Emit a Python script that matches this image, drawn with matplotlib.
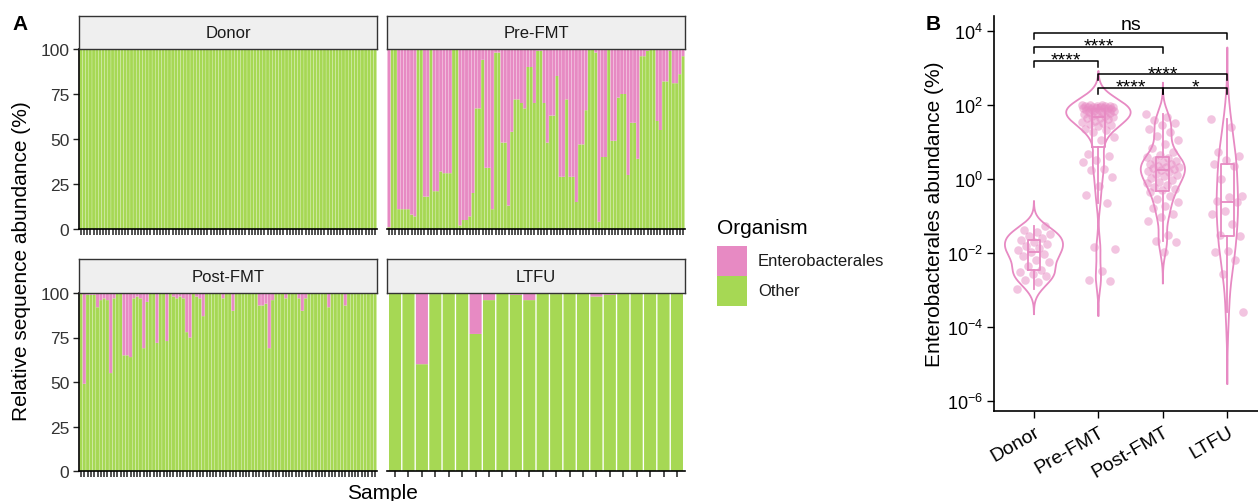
import numpy as np
import matplotlib
matplotlib.use("Agg")
import matplotlib.pyplot as plt
from matplotlib import cbook
from matplotlib.patches import Rectangle
from matplotlib.ticker import NullLocator, LogFormatterMathtext

plt.rcParams['font.family'] = ['Liberation Sans', 'DejaVu Sans']
plt.rcParams['mathtext.fontset'] = 'custom'
plt.rcParams['mathtext.rm'] = 'Liberation Sans'
plt.rcParams['mathtext.it'] = 'Liberation Sans:italic'
plt.rcParams['mathtext.bf'] = 'Liberation Sans:bold'

PINK = '#E78AC3'
GREEN = '#A6D854'

# ---- panel A: relative sequence abundance of "Other" per sample (%) ----
facets = ['Donor', 'Pre-FMT', 'Post-FMT', 'LTFU']
organisms = ['Enterobacterales', 'Other']

donor_other = [100.0] * 94
pre_fmt_other = [
    1, 100, 100, 11, 11, 11, 11, 8, 7, 100, 100, 18, 18, 100, 21, 21, 32, 31, 31, 31,
    100, 100, 2, 5, 5, 7, 20, 67, 67, 94, 34, 34, 11, 98, 98, 48, 48, 13, 54, 72,
    72, 70, 67, 90, 90, 70, 99, 99, 70, 48, 63, 63, 85, 29, 29, 72, 29, 29, 15, 47,
    47, 66, 100, 100, 98, 4, 40, 40, 100, 49, 49, 73, 75, 75, 30, 59, 59, 39, 96, 96,
    99, 100, 100, 60, 55, 82, 82, 99, 81, 81, 86, 96,
]
post_fmt_other = [
    100, 49, 99, 99, 99, 92, 96, 97, 96, 55,
    97, 100, 100, 65, 65, 64, 97, 98, 97, 69,
    95, 100, 100, 72, 100, 100, 73, 100, 98, 97,
    98, 97, 78, 75, 100, 98, 97, 87, 100, 100,
    100, 100, 100, 97, 100, 100, 90, 100, 100, 100,
    100, 100, 100, 100, 93, 93, 94, 69, 96, 100,
    100, 100, 97, 100, 100, 100, 97, 90, 97, 100,
    100, 100, 100, 100, 100, 92, 100, 100, 100, 100,
    93, 100, 100, 100, 100, 100, 100, 100, 100, 100,
]
ltfu_other = [100, 99.9, 60, 99.4, 99.5, 99.9, 77, 96, 99.7, 99, 96,
              99.9, 99.4, 99.9, 99.9, 98, 99.0, 99.9, 99.7, 99.4, 99.9, 99.8]

# ---- panel B: Enterobacterales abundance (%) per sample ----
groups = ['Donor', 'Pre-FMT', 'Post-FMT', 'LTFU']
donor_ent = [0.00107, 0.00162, 0.0019, 0.0024, 0.00275, 0.0030, 0.0034, 0.0045, 0.0055,
             0.0066, 0.0081, 0.0093, 0.0107, 0.0117, 0.0132, 0.0151, 0.0174, 0.0195,
             0.0219, 0.0251, 0.0282, 0.0324, 0.0363, 0.0417, 0.0525]
pre_fmt_ent = [99, 98, 98, 96, 95, 94, 92, 91, 89, 88, 87, 85, 83, 82, 81, 78, 77, 74, 73,
               71, 69, 68, 65, 63, 61, 59, 56, 52, 51, 48, 46, 45, 41, 37, 35, 33, 30, 29,
               27, 23, 21, 19, 14, 11, 4.8, 4.1, 3.2, 2.9, 1.9, 1.7, 1.1, 0.66, 0.36, 0.23,
               0.014, 0.013, 0.0033, 0.0018, 0.0017]
post_fmt_ent = [58, 48, 40, 33, 28, 22, 19, 15, 11.5, 8.9, 6.9, 5.5, 4.5, 3.9, 3.6, 3.2,
                3.0, 2.8, 2.6, 2.5, 2.3, 2.1, 2.05, 2.0, 1.9, 1.8, 1.66, 1.5, 1.38, 1.26,
                1.17, 1.05, 0.93, 0.83, 0.76, 0.68, 0.62, 0.55, 0.5, 0.44, 0.35, 0.29,
                0.24, 0.19, 0.16, 0.11, 0.093, 0.074, 0.030, 0.021, 0.020, 0.0105]
ltfu_ent = [42, 25, 5.4, 4.3, 3.2, 2.6, 2.3, 1.0, 0.35, 0.32, 0.25, 0.24, 0.14, 0.11,
            0.060, 0.030, 0.028, 0.0115, 0.0107, 0.0063, 0.0027, 0.00025]

comparisons = [('Pre-FMT', 'Post-FMT', '****'), ('Post-FMT', 'LTFU', '*'),
               ('Pre-FMT', 'LTFU', '****'), ('Donor', 'Pre-FMT', '****'),
               ('Donor', 'Post-FMT', '****'), ('Donor', 'LTFU', 'ns')]
bracket_row = [0, 0, 1, 2, 3, 4]

W, H = 1258, 502


def px_box(left, top, right, bottom):
    return [left / W, 1 - bottom / H, (right - left) / W, (bottom - top) / H]


fig = plt.figure(figsize=(W / 100, H / 100), dpi=100)

# ---------------- panel A ----------------
panel_px = {
    'Donor': (79, 50, 377, 230),
    'Pre-FMT': (387, 50, 685, 230),
    'Post-FMT': (79, 294, 377, 472),
    'LTFU': (387, 294, 685, 472),
}
strip_top = {'Donor': 17, 'Pre-FMT': 17, 'Post-FMT': 260, 'LTFU': 260}
facet_data = dict(zip(facets, [donor_other, pre_fmt_other, post_fmt_other, ltfu_other]))

for name in facets:
    left, top, right, bottom = panel_px[name]
    other = np.array(facet_data[name], dtype=float)
    x = np.arange(len(other))
    ax = fig.add_axes(px_box(left, top, right, bottom))
    ax.bar(x, other, width=0.9, color=GREEN, linewidth=0, snap=False)
    ax.bar(x, 100 - other, bottom=other, width=0.9, color=PINK, linewidth=0, snap=False)
    ax.set_xlim(-0.6, len(other) - 0.4)
    ax.set_ylim(0, 100)
    ax.set_xticks(x)
    ax.set_xticklabels([])
    ax.tick_params(axis='x', length=4, width=1.1, color='#222222')
    for s in ('top', 'right'):
        ax.spines[s].set_visible(False)
    ax.spines['bottom'].set_linewidth(1.2)
    if name in ('Donor', 'Post-FMT'):
        ax.set_yticks([0, 25, 50, 75, 100])
        ax.tick_params(axis='y', length=4, width=1.0, color='#222222',
                       labelsize=12.5, labelcolor='#333333', pad=3)
        ax.spines['left'].set_linewidth(1.2)
    else:
        ax.spines['left'].set_visible(False)
        ax.set_yticks([])

    sax = fig.add_axes(px_box(left, strip_top[name], right, top))
    sax.set_facecolor('#EFEFEF')
    sax.set_xticks([])
    sax.set_yticks([])
    for s in sax.spines.values():
        s.set_linewidth(1.0)
        s.set_color('#333333')
    sax.text(0.5, 0.5, name, ha='center', va='center', fontsize=12, color='#1A1A1A')

fig.text(22 / W, 1 - 261 / H, 'Relative sequence abundance (%)', rotation=90,
         ha='center', va='center', fontsize=15)
fig.text(382 / W, 1 - 494 / H, 'Sample', ha='center', va='center', fontsize=15)

# legend: title + two touching colour keys
fig.text(717 / W, 1 - 228 / H, 'Organism', ha='left', va='center', fontsize=15)
for k, (lab, col) in enumerate(zip(organisms, [PINK, GREEN])):
    y0 = 247 + 30 * k
    fig.patches.append(Rectangle((717 / W, 1 - (y0 + 30) / H), 30 / W, 30 / H,
                                 transform=fig.transFigure, facecolor=col, edgecolor='none'))
    fig.text(758 / W, 1 - (y0 + 15) / H, lab, ha='left', va='center', fontsize=12,
             color='#1A1A1A')

fig.text(20 / W, 1 - 25 / H, 'A', fontsize=15, fontweight='bold', ha='center', va='center')

# ---------------- panel B ----------------
axb = fig.add_axes(px_box(994, 17, 1258, 411.7))
axb.set_yscale('log')
series = [donor_ent, pre_fmt_ent, post_fmt_ent, ltfu_ent]
logs = [np.log10(np.array(s, dtype=float)) for s in series]


def nrd0(v):
    iqr = np.subtract(*np.percentile(v, [75, 25]))
    return 0.9 * min(np.std(v, ddof=1), iqr / 1.34) * len(v) ** -0.2


dens = []
for v in logs:
    bw = nrd0(v)
    grid = np.linspace(v.min() - 3 * bw, v.max() + 3 * bw, 512)
    d = np.exp(-0.5 * ((grid[:, None] - v[None, :]) / bw) ** 2).sum(axis=1)
    d /= len(v) * bw * np.sqrt(2 * np.pi)
    dens.append((grid, d))
dmax = max(d.max() for _, d in dens)

for i, (grid, d) in enumerate(dens):
    pos = i + 1
    half = d / dmax * 0.5
    xs = np.concatenate([pos - half, (pos + half)[::-1], [pos - half[0]]])
    ys = 10 ** np.concatenate([grid, grid[::-1], [grid[0]]])
    axb.plot(xs, ys, color=PINK, lw=1.3, zorder=2)

stats = []
for v in logs:
    st = cbook.boxplot_stats(v, whis=1.5)[0]
    stats.append({k: 10 ** st[k] for k in ('med', 'q1', 'q3', 'whislo', 'whishi')})
    stats[-1]['fliers'] = []
line_kw = dict(color=PINK, lw=1.3)
axb.bxp(stats, positions=[1, 2, 3, 4], widths=0.2, showfliers=False, showcaps=False,
        boxprops=line_kw, whiskerprops=line_kw, medianprops=line_kw, manage_ticks=False,
        zorder=2)

jitter = 0.26
for i, v in enumerate(series):
    n = len(v)
    offs = ((np.arange(n) * 0.618034) % 1.0 - 0.5) * 2 * jitter
    axb.scatter(i + 1 + offs, v, s=38, color=PINK, alpha=0.5, linewidths=0, zorder=3)

base, step, tip = 2.46, 0.37, 0.16
for (g1, g2, lab), row in zip(comparisons, bracket_row):
    x1, x2 = groups.index(g1) + 1, groups.index(g2) + 1
    yl = base + row * step
    axb.plot([x1, x1, x2, x2], 10 ** np.array([yl - tip, yl, yl, yl - tip]),
             color='black', lw=1.1, clip_on=False, zorder=4)
    off = 3.1 if lab == 'ns' else -2.7
    axb.annotate(lab, xy=((x1 + x2) / 2, 10 ** yl), xytext=(0, off), textcoords='offset points',
                 ha='center', va='baseline', fontsize=14)

axb.set_xlim(0.38, 4.476)
axb.set_ylim(10 ** -6.27, 10 ** 4.41)
axb.set_yticks([1e-6, 1e-4, 1e-2, 1, 1e2, 1e4])
axb.yaxis.set_minor_locator(NullLocator())
axb.yaxis.set_major_formatter(LogFormatterMathtext())
axb.set_xticks([1, 2, 3, 4])
axb.set_xticklabels(groups, rotation=30, ha='right', rotation_mode='anchor', fontsize=14)
axb.tick_params(axis='y', labelsize=13, length=5, width=1.0, pad=3)
axb.tick_params(axis='x', length=5, width=1.0, pad=4)
for s in ('top', 'right'):
    axb.spines[s].set_visible(False)
for s in ('left', 'bottom'):
    axb.spines[s].set_linewidth(1.2)

fig.text(934 / W, 1 - 214 / H, 'Enterobacterales abundance (%)', rotation=90,
         ha='center', va='center', fontsize=15)
fig.text(933 / W, 1 - 25 / H, 'B', fontsize=15, fontweight='bold', ha='center', va='center')

fig.savefig('out.png', dpi=100, facecolor='white')
